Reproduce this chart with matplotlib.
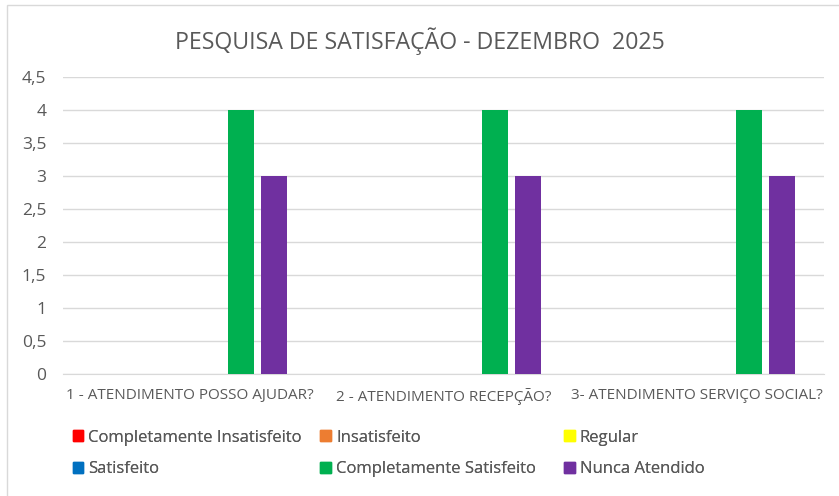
import matplotlib.pyplot as plt
import numpy as np
from matplotlib.patches import Rectangle, Patch

plt.rcParams['font.family'] = ['Open Sans', 'DejaVu Sans']

categories = ['1 - ATENDIMENTO POSSO AJUDAR?', '2 - ATENDIMENTO RECEPÇÃO?',
              '3- ATENDIMENTO SERVIÇO SOCIAL?']
series = ['Completamente Insatisfeito', 'Insatisfeito', 'Regular',
          'Satisfeito', 'Completamente Satisfeito', 'Nunca Atendido']
values = [
    [0, 0, 0],
    [0, 0, 0],
    [0, 0, 0],
    [0, 0, 0],
    [4, 4, 4],
    [3, 3, 3],
]
colors = ['#FF0000', '#ED7D31', '#FFFF00', '#0070C0', '#00B050', '#7030A0']
yticks = [0, 0.5, 1, 1.5, 2, 2.5, 3, 3.5, 4, 4.5]
ytick_labels = ['0', '0,5', '1', '1,5', '2', '2,5', '3', '3,5', '4', '4,5']

fig = plt.figure(figsize=(8.39, 4.96), dpi=100)
ax = fig.add_axes([0.0751, 0.246, 0.907, 0.5988])

x = np.arange(len(categories))
slot = 0.13
width = 0.103
for i, (name, vals) in enumerate(zip(series, values)):
    ax.bar(x + (i - 2.5) * slot + 0.008, vals, width, color=colors[i], label=name, zorder=3)

ax.set_xlim(-0.5, 2.5)
ax.set_ylim(0, 4.5)
ax.set_yticks(yticks)
ax.set_yticklabels(ytick_labels, color='#595959', fontsize=12.5)
ax.set_xticks(x)
ax.set_xticklabels(categories, color='#595959', fontsize=11)
ax.tick_params(length=0)
ax.tick_params(axis='y', pad=12)
ax.tick_params(axis='x', pad=10)
ax.grid(axis='y', color='#D9D9D9', lw=1, zorder=0)
for s in ['top', 'right', 'left']:
    ax.spines[s].set_visible(False)
ax.spines['bottom'].set_color('#D9D9D9')

fig.text(0.5, 0.917, 'PESQUISA DE SATISFAÇÃO - DEZEMBRO  2025', ha='center', va='center',
         fontsize=16.7, color='#595959')

# legend: three columns, two rows
col_x = [0.0865, 0.3815, 0.672]
for c in range(3):
    idx = [c, c + 3]
    handles = [Patch(color=colors[k]) for k in idx]
    leg = fig.legend(handles, [series[k] for k in idx], loc='upper left',
                     bbox_to_anchor=(col_x[c], 0.134), frameon=False,
                     fontsize=12, handlelength=0.65, handleheight=0.65,
                     handletextpad=0.3, labelspacing=0.95, borderaxespad=0,
                     borderpad=0)
    for t in leg.get_texts():
        t.set_color('#595959')
    fig.add_artist(leg)

# chart frame
fig.add_artist(Rectangle((7 / 839, -0.1), 1.2, 1.1 - 5 / 496, transform=fig.transFigure,
                         fill=False, edgecolor='#D9D9D9', lw=1))

fig.savefig('out.png', dpi=100)
